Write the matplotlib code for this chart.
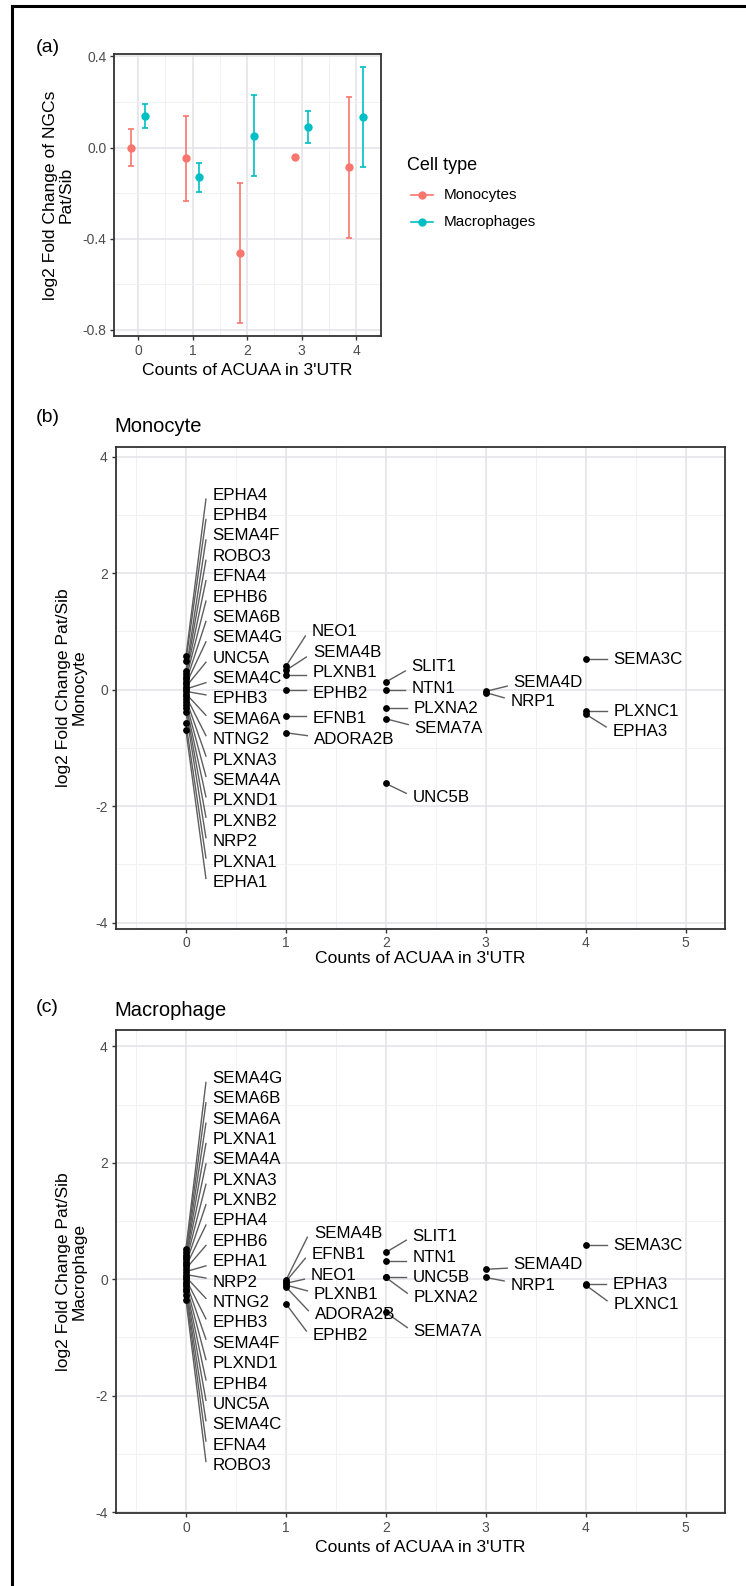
import numpy as np
import matplotlib.pyplot as plt
from matplotlib.lines import Line2D

plt.rcParams['font.family'] = ['Liberation Sans', 'DejaVu Sans']
plt.rcParams['axes.unicode_minus'] = False

# ---------------- data ----------------
# (a) mean log2 fold change of NGCs with error bars, by ACUAA count
counts = [0, 1, 2, 3, 4]
mono_mean = [0.000, -0.047, -0.464, -0.042, -0.086]
mono_lo   = [-0.080, -0.234, -0.771, -0.042, -0.397]
mono_hi   = [0.082, 0.140, -0.155, -0.042, 0.222]
mac_mean  = [0.139, -0.130, 0.051, 0.091, 0.134]
mac_lo    = [0.086, -0.193, -0.126, 0.022, -0.085]
mac_hi    = [0.191, -0.069, 0.229, 0.161, 0.353]

# (b) monocyte genes
mono_genes = ['EPHA4', 'EPHB4', 'SEMA4F', 'ROBO3', 'EFNA4', 'EPHB6', 'SEMA6B', 'SEMA4G',
              'UNC5A', 'SEMA4C', 'EPHB3', 'SEMA6A', 'NTNG2', 'PLXNA3', 'SEMA4A', 'PLXND1',
              'PLXNB2', 'NRP2', 'PLXNA1', 'EPHA1',
              'NEO1', 'SEMA4B', 'PLXNB1', 'EPHB2', 'EFNB1', 'ADORA2B',
              'SLIT1', 'NTN1', 'PLXNA2', 'SEMA7A', 'UNC5B',
              'SEMA4D', 'NRP1',
              'SEMA3C', 'PLXNC1', 'EPHA3']
mono_count = [0] * 20 + [1] * 6 + [2] * 5 + [3] * 2 + [4] * 3
mono_lfc = [0.57, 0.50, 0.32, 0.27, 0.22, 0.18, 0.13, 0.09, 0.05, 0.01,
            -0.03, -0.07, -0.11, -0.16, -0.21, -0.26, -0.31, -0.38, -0.58, -0.70,
            0.40, 0.33, 0.25, -0.01, -0.45, -0.74,
            0.13, -0.01, -0.31, -0.50, -1.61,
            -0.03, -0.05,
            0.53, -0.36, -0.42]

# (c) macrophage genes
mac_genes = ['SEMA4G', 'SEMA6B', 'SEMA6A', 'PLXNA1', 'SEMA4A', 'PLXNA3', 'PLXNB2', 'EPHA4',
             'EPHB6', 'EPHA1', 'NRP2', 'NTNG2', 'EPHB3', 'SEMA4F', 'PLXND1', 'EPHB4',
             'UNC5A', 'SEMA4C', 'EFNA4', 'ROBO3',
             'SEMA4B', 'EFNB1', 'NEO1', 'PLXNB1', 'ADORA2B', 'EPHB2',
             'SLIT1', 'NTN1', 'UNC5B', 'PLXNA2', 'SEMA7A',
             'SEMA4D', 'NRP1',
             'SEMA3C', 'EPHA3', 'PLXNC1']
mac_count = [0] * 20 + [1] * 6 + [2] * 5 + [3] * 2 + [4] * 3
mac_lfc = [0.52, 0.47, 0.42, 0.38, 0.34, 0.30, 0.26, 0.22, 0.18, 0.13,
           0.08, 0.04, 0.00, -0.04, -0.08, -0.12, -0.16, -0.21, -0.27, -0.35,
           -0.02, -0.04, -0.07, -0.10, -0.13, -0.42,
           0.46, 0.31, 0.04, 0.03, -0.57,
           0.17, 0.03,
           0.58, -0.09, -0.10]

# label placement (repelled positions, data units) for the non-zero groups
mono_lab = {'NEO1': (1.26, 0.99), 'SEMA4B': (1.27, 0.63), 'PLXNB1': (1.27, 0.29),
            'EPHB2': (1.27, -0.07), 'EFNB1': (1.27, -0.50), 'ADORA2B': (1.28, -0.86),
            'SLIT1': (2.26, 0.39), 'NTN1': (2.26, 0.02), 'PLXNA2': (2.28, -0.33),
            'SEMA7A': (2.29, -0.67), 'UNC5B': (2.27, -1.85),
            'SEMA4D': (3.28, 0.13), 'NRP1': (3.25, -0.21),
            'SEMA3C': (4.28, 0.52), 'PLXNC1': (4.28, -0.37), 'EPHA3': (4.27, -0.71)}
mac_lab = {'SEMA4B': (1.28, 0.79), 'EFNB1': (1.26, 0.43), 'NEO1': (1.25, 0.07),
           'PLXNB1': (1.28, -0.27), 'ADORA2B': (1.29, -0.61), 'EPHB2': (1.27, -0.96),
           'SLIT1': (2.27, 0.74), 'NTN1': (2.27, 0.38), 'UNC5B': (2.27, 0.03),
           'PLXNA2': (2.28, -0.31), 'SEMA7A': (2.28, -0.90),
           'SEMA4D': (3.28, 0.26), 'NRP1': (3.25, -0.10),
           'SEMA3C': (4.28, 0.58), 'EPHA3': (4.27, -0.09), 'PLXNC1': (4.28, -0.44)}

# ---------------- layout helpers ----------------
W, H = 746, 1586
def fx(px):
    return px / W
def fy(py):
    return 1 - py / H

MONO_COL = '#F8766D'
MAC_COL = '#00BFC4'
GRID = '#E3E3E8'
GRID_MIN = '#EFEFF3'

fig = plt.figure(figsize=(W / 100, H / 100), dpi=100)

def add_box(left, top, right, bottom):
    return fig.add_axes([fx(left), fy(bottom), (right - left) / W, (bottom - top) / H])

def style(ax, xmaj, xmin, ymaj, ymin, ylabels):
    ax.set_xticks(xmaj)
    ax.set_xticks(xmin, minor=True)
    ax.set_yticks(ymaj)
    ax.set_yticks(ymin, minor=True)
    ax.set_xticklabels([str(v) for v in xmaj])
    ax.set_yticklabels(ylabels)
    ax.grid(which='major', color=GRID, lw=1.1)
    ax.grid(which='minor', color=GRID_MIN, lw=0.6)
    ax.set_axisbelow(True)
    for s in ax.spines.values():
        s.set_color('#333333')
        s.set_linewidth(1.3)
    ax.tick_params(which='major', length=3, width=1, color='#333333',
                   labelcolor='#4D4D4D', labelsize=10, pad=2.5)
    ax.tick_params(which='minor', length=0)

# outer frame (top and left edges)
fig.add_artist(Line2D([fx(12), fx(12)], [fy(6), 0], color='black', lw=2.2))
fig.add_artist(Line2D([fx(12), 1], [fy(6), fy(6)], color='black', lw=2.2))

# ---------------- panel (a) ----------------
ax_a = add_box(114.2, 54.3, 380.6, 336)
off = 0.125
x = np.array(counts, dtype=float)
for xs, m, lo, hi, col in [(x - off, mono_mean, mono_lo, mono_hi, MONO_COL),
                           (x + off, mac_mean, mac_lo, mac_hi, MAC_COL)]:
    m = np.array(m); lo = np.array(lo); hi = np.array(hi)
    ax_a.errorbar(xs, m, yerr=[m - lo, hi - m], fmt='o', color=col, ms=5,
                  elinewidth=1.2, capsize=2.4, capthick=1.2, zorder=3)
ax_a.set_xlim(-0.437, 4.45)
ax_a.set_ylim(-0.827, 0.409)
style(ax_a, [0, 1, 2, 3, 4], [0.5, 1.5, 2.5, 3.5],
      [-0.8, -0.4, 0.0, 0.4], [-0.6, -0.2, 0.2], ['-0.8', '-0.4', '0.0', '0.4'])

fig.text(fx(36), fy(48), '(a)', fontsize=14, ha='left', va='center')
fig.text(fx(58), fy(195), 'log2 Fold Change of NGCs\nPat/Sib', rotation=90,
         fontsize=12.6, ha='center', va='center', linespacing=1.05)
fig.text(fx(247.4), fy(370.7), "Counts of ACUAA in 3'UTR", fontsize=12.6,
         ha='center', va='center')

# legend
fig.text(fx(407), fy(165), 'Cell type', fontsize=13, ha='left', va='center')
for yy, lab, col in [(195, 'Monocytes', MONO_COL), (222, 'Macrophages', MAC_COL)]:
    fig.add_artist(Line2D([fx(411), fx(433)], [fy(yy), fy(yy)], color=col, lw=1.2))
    fig.add_artist(Line2D([fx(422)], [fy(yy)], color=col, marker='o', ms=5, lw=0))
    fig.text(fx(444), fy(yy), lab, fontsize=11, ha='left', va='center')

# ---------------- panels (b) and (c) ----------------
def gene_panel(ax, genes, cnt, lfc, lab, top_y, ylim):
    lab = dict(lab)
    zero = [g for g, c in zip(genes, cnt) if c == 0]
    for i, g in enumerate(zero):
        lab[g] = (0.265, top_y - i * 0.350)
    ax.scatter(cnt, lfc, s=24, color='black', zorder=4, linewidths=0)
    for g, c, v in zip(genes, cnt, lfc):
        lx, ly = lab[g]
        ey = np.clip(v, ly - 0.07, ly + 0.07)
        ax.plot([c, lx - 0.065], [v, ey], color='#5E5E5E', lw=1.0, zorder=3)
        ax.text(lx, ly, g, fontsize=12.2, ha='left', va='center', zorder=5)
    ax.set_xlim(-0.705, 5.39)
    ax.set_ylim(*ylim)
    style(ax, [0, 1, 2, 3, 4, 5], [-0.5, 0.5, 1.5, 2.5, 3.5, 4.5],
          [-4, -2, 0, 2, 4], [-3, -1, 1, 3], ['-4', '-2', '0', '2', '4'])

ax_b = add_box(115.5, 446.7, 724.5, 928.5)
gene_panel(ax_b, mono_genes, mono_count, mono_lfc, mono_lab, 3.34, (-4.1, 4.17))
fig.text(fx(36), fy(417), '(b)', fontsize=14, ha='left', va='center')
fig.text(fx(114), fy(427), 'Monocyte', fontsize=14.5, ha='left', va='center')
fig.text(fx(71), fy(687.6), 'log2 Fold Change Pat/Sib\nMonocyte', rotation=90,
         fontsize=12.6, ha='center', va='center', linespacing=1.05)
fig.text(fx(420), fy(959), "Counts of ACUAA in 3'UTR", fontsize=12.6,
         ha='center', va='center')

ax_c = add_box(115.5, 1030, 724.5, 1513.3)
gene_panel(ax_c, mac_genes, mac_count, mac_lfc, mac_lab, 3.45, (-4.02, 4.28))
fig.text(fx(36), fy(1007), '(c)', fontsize=14, ha='left', va='center')
fig.text(fx(114), fy(1010), 'Macrophage', fontsize=14.5, ha='left', va='center')
fig.text(fx(71), fy(1271.7), 'log2 Fold Change Pat/Sib\nMacrophage', rotation=90,
         fontsize=12.6, ha='center', va='center', linespacing=1.05)
fig.text(fx(420), fy(1547), "Counts of ACUAA in 3'UTR", fontsize=12.6,
         ha='center', va='center')

fig.savefig('out.png', dpi=100, facecolor='white')
